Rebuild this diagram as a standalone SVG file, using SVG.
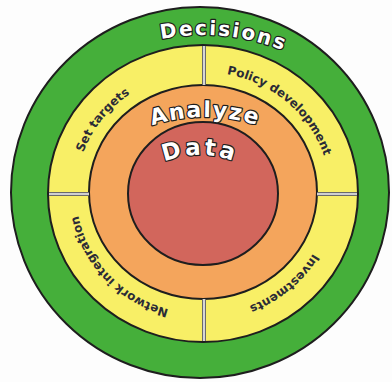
<svg xmlns="http://www.w3.org/2000/svg" width="392" height="382" viewBox="0 0 392 382">
<style>
.ring{stroke:#1e1e1e;stroke-width:2}
.big{font-family:"DejaVu Sans",sans-serif;font-weight:bold;fill:#fff;stroke:#1e1e1e;stroke-width:2.4;paint-order:stroke;stroke-linejoin:round}
.small{font-family:"DejaVu Sans",sans-serif;font-weight:bold;font-size:12px;fill:#2b2b36}
.divo{stroke:#6a6a6a;stroke-width:4}
.divi{stroke:#f2f2f2;stroke-width:1.6}
</style>
<defs>
<path id="pDec" d="M 79.7 73.9 A 215 215 0 0 1 357.7 100.6"/>
<path id="pAna" d="M 95.7 156.8 A 170 170 0 0 1 314.3 156.8"/>
<path id="pDat" d="M 117.7 202.5 A 95 95 0 0 1 282.3 202.5"/>
<path id="pSet" d="M 77 178.3 A 127 121 0 0 1 153.4 81.6"/>
<path id="pPol" d="M 181 73.8 A 127 121 0 0 1 329.7 201.4"/>
<path id="pInv" d="M 327.7 216.1 A 127 121 0 0 1 209.6 313.8"/>
<path id="pNet" d="M 191.9 313.5 A 127 121 0 0 1 76 192.2"/>
</defs>
<rect width="392" height="382" fill="#fdfdfd"/>
<g id="decisions">
<ellipse cx="200" cy="192.5" rx="189" ry="185.5" fill="#45af3a" class="ring"/>
</g>
<g id="actions">
<ellipse cx="203" cy="193.5" rx="155" ry="148.5" fill="#f8ef66" class="ring"/>
</g>
<g id="analyze">
<ellipse cx="203" cy="192" rx="114" ry="107" fill="#f4a55c" class="ring"/>
</g>
<g id="data">
<ellipse cx="203" cy="193.5" rx="75" ry="71.5" fill="#d2665c" class="ring"/>
</g>
<g id="connectors">
<line class="divo" x1="204" y1="46" x2="204" y2="85"/>
<line class="divi" x1="204" y1="46" x2="204" y2="85"/>
<line class="divo" x1="204" y1="299" x2="204" y2="341"/>
<line class="divi" x1="204" y1="299" x2="204" y2="341"/>
<line class="divo" x1="49" y1="194" x2="89" y2="194"/>
<line class="divi" x1="49" y1="194" x2="89" y2="194"/>
<line class="divo" x1="317" y1="194" x2="357" y2="194"/>
<line class="divi" x1="317" y1="194" x2="357" y2="194"/>
</g>
<g id="decisions-label">
<text class="big" font-size="20" letter-spacing="2"><textPath href="#pDec" startOffset="50%" text-anchor="middle">Decisions</textPath></text>
</g>
<g id="analyze-label">
<text class="big" font-size="22" letter-spacing="1.5"><textPath href="#pAna" startOffset="50%" text-anchor="middle">Analyze</textPath></text>
</g>
<g id="data-label">
<text class="big" font-size="23" letter-spacing="3"><textPath href="#pDat" startOffset="50%" text-anchor="middle">Data</textPath></text>
</g>
<g id="set-targets">
<text class="small"><textPath href="#pSet" startOffset="50%" text-anchor="middle">Set targets</textPath></text>
</g>
<g id="policy-development">
<text class="small"><textPath href="#pPol" startOffset="50%" text-anchor="middle">Policy development</textPath></text>
</g>
<g id="investments">
<text class="small"><textPath href="#pInv" startOffset="50%" text-anchor="middle">Investments</textPath></text>
</g>
<g id="network-integration">
<text class="small"><textPath href="#pNet" startOffset="50%" text-anchor="middle">Network integration</textPath></text>
</g>
</svg>
